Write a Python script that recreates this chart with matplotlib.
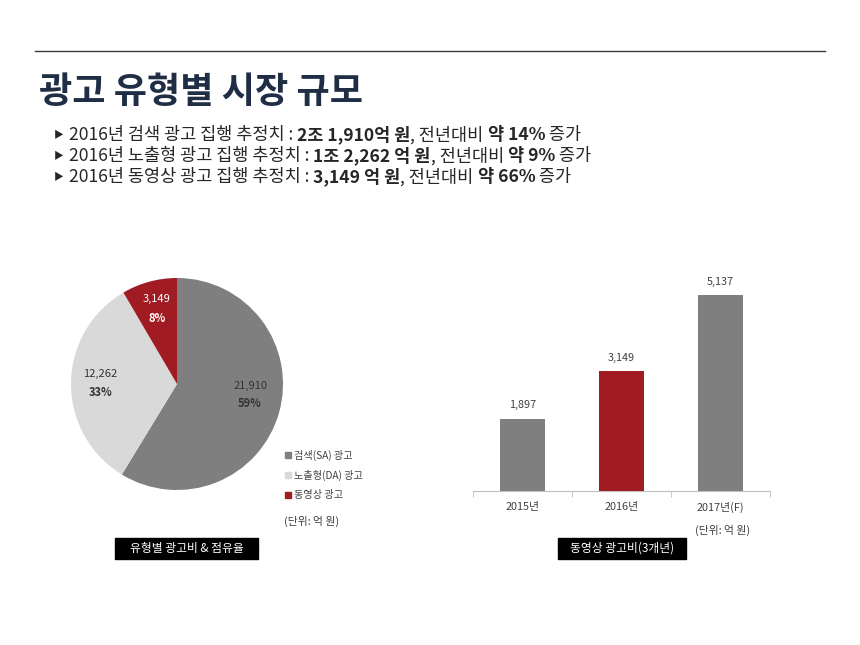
import matplotlib
matplotlib.use("Agg")
import matplotlib.pyplot as plt
from matplotlib.patches import Rectangle

plt.rcParams['font.family'] = ['Noto Sans CJK KR', 'DejaVu Sans']

# ---- data ----
title = "광고 유형별 시장 규모"
bullet_lines = [
    [("2016년 검색 광고 집행 추정치 : ", False), ("2조 1,910억 원", True), (", 전년대비 ", False), ("약 14%", True), (" 증가", False)],
    [("2016년 노출형 광고 집행 추정치 : ", False), ("1조 2,262 억 원", True), (", 전년대비 ", False), ("약 9%", True), (" 증가", False)],
    [("2016년 동영상 광고 집행 추정치 : ", False), ("3,149 억 원", True), (", 전년대비 ", False), ("약 66%", True), (" 증가", False)],
]
pie_labels = ["검색(SA) 광고", "노출형(DA) 광고", "동영상 광고"]
pie_values = [21910, 12262, 3149]
pie_pcts = ["59%", "33%", "8%"]
pie_colors = ["#7f7f7f", "#d9d9d9", "#a01b22"]

bar_cats = ["2015년", "2016년", "2017년(F)"]
bar_values = [1897, 3149, 5137]
bar_colors = ["#7f7f7f", "#a01b22", "#7f7f7f"]

W, H = 860, 645
fig = plt.figure(figsize=(W / 100, H / 100), dpi=100)
fig.patch.set_facecolor("white")

def fx(px):
    return px / W

def fy(py):
    return 1 - py / H

# top rule
fig.add_artist(plt.Line2D([fx(35), fx(825)], [fy(51), fy(51)], color="#3a3a3a", lw=1.0))

# title
fig.text(fx(39), fy(93), title, fontsize=26, fontweight="bold", color="#1f2e45",
         va="center", ha="left")

# bullets
renderer = fig.canvas.get_renderer()
ys = [135, 156, 177]
for y, segs in zip(ys, bullet_lines):
    fig.text(fx(54), fy(y), "▶", fontsize=7, color="#262626", va="center", ha="left")
    x = fx(69)
    for s, b in segs:
        t = fig.text(x, fy(y), s, fontsize=12.6, color="#262626", va="center", ha="left",
                     fontweight="bold" if b else "normal")
        bb = t.get_window_extent(renderer=renderer)
        x = x + bb.width / W

# ---- pie ----
cx, cy, r = 177, 384, 106
axp = fig.add_axes([fx(cx - r), fy(cy + r), 2 * r / W, 2 * r / H])
axp.pie(pie_values, colors=pie_colors, startangle=90, counterclock=False,
        wedgeprops=dict(linewidth=0))
axp.set_xlim(-1, 1)
axp.set_ylim(-1, 1)
axp.set_aspect("auto")
axp.axis("off")

label_pos = [(0.69, -0.02, -0.18), (-0.72, 0.09, -0.08), (-0.19, 0.80, 0.62)]
label_col = ["#333333", "#333333", "white"]
for (lx, ly1, ly2), v, p, c in zip(label_pos, pie_values, pie_pcts, label_col):
    axp.text(lx, ly1, f"{v:,}", fontsize=8, color=c, ha="center", va="center")
    axp.text(lx, ly2, p, fontsize=8, color=c, ha="center", va="center", fontweight="bold")

# legend
for i, (lab, col) in enumerate(zip(pie_labels, pie_colors)):
    y = 455 + i * 20
    fig.add_artist(Rectangle((fx(285), fy(y + 3)), 6 / W, 6 / H, color=col,
                             transform=fig.transFigure))
    fig.text(fx(294), fy(y), lab, fontsize=7.3, color="#404040", va="center", ha="left")
fig.text(fx(284), fy(521), "(단위: 억 원)", fontsize=7.8, color="#404040", va="center", ha="left")

def black_box(x0, x1, y0, y1, s):
    fig.add_artist(Rectangle((fx(x0), fy(y1)), (x1 - x0) / W, (y1 - y0) / H,
                             color="black", transform=fig.transFigure))
    fig.text(fx((x0 + x1) / 2), fy((y0 + y1) / 2), s, fontsize=8.5, color="white",
             ha="center", va="center")

black_box(115, 258, 538, 559, "유형별 광고비 & 점유율")

# ---- bar chart ----
ymax = 6000
base_px = 491
px_per_unit = 196 / 5137
axb = fig.add_axes([fx(473), fy(base_px), (770 - 473) / W, ymax * px_per_unit / H])
xs = list(range(len(bar_cats)))
axb.bar(xs, bar_values, width=0.45, color=bar_colors)
axb.set_xlim(-0.5, len(bar_cats) - 0.5)
axb.set_ylim(0, ymax)
for s in ["top", "right", "left"]:
    axb.spines[s].set_visible(False)
axb.spines["bottom"].set_color("#bfbfbf")
axb.spines["bottom"].set_linewidth(0.8)
axb.set_yticks([])
axb.set_xticks(xs)
axb.set_xticklabels(bar_cats, fontsize=7.8, color="#404040")
axb.tick_params(axis="x", which="major", length=0, pad=8)
axb.set_xticks([i - 0.5 for i in range(len(bar_cats) + 1)], minor=True)
axb.tick_params(axis="x", which="minor", length=4, color="#bfbfbf", direction="out")
axb.patch.set_alpha(0)
for x, v in zip(xs, bar_values):
    axb.annotate(f"{v:,}", (x, v), xytext=(0, 6), textcoords="offset points",
                 ha="center", va="bottom", fontsize=7.8, color="#404040")

fig.text(fx(723), fy(530), "(단위: 억 원)", fontsize=7.8, color="#404040", va="center", ha="center")
black_box(558, 686, 538, 559, "동영상 광고비(3개년)")

fig.savefig("out.png", dpi=100, facecolor="white")
